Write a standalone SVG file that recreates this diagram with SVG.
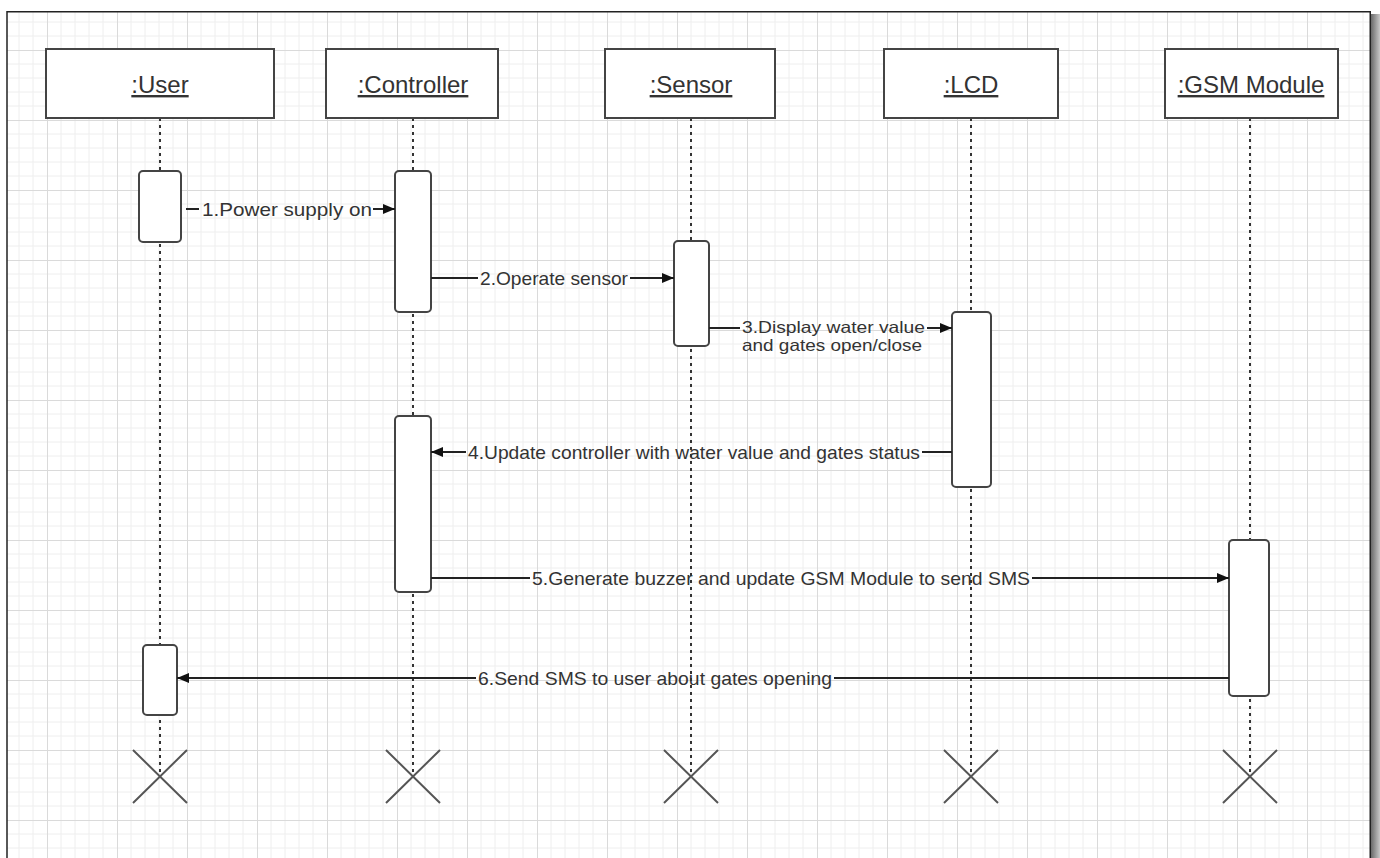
<svg xmlns="http://www.w3.org/2000/svg" width="1380" height="858" viewBox="0 0 1380 858">
  <defs>
    <pattern id="grid" x="47" y="50" width="70" height="70" patternUnits="userSpaceOnUse">
      <path d="M14,0V70M28,0V70M42,0V70M56,0V70M0,14H70M0,28H70M0,42H70M0,56H70" stroke="#eeeeee" stroke-width="1" fill="none"/>
      <path d="M0.5,0V70M0,0.5H70" stroke="#dadada" stroke-width="1" fill="none"/>
    </pattern>
    <linearGradient id="edgeShade" x1="0" y1="0" x2="1" y2="0">
      <stop offset="0" stop-color="#6a6a6a"/>
      <stop offset="1" stop-color="#c8c8c8"/>
    </linearGradient>
    <marker id="arrow" viewBox="0 0 12 10" refX="12" refY="5" markerWidth="12" markerHeight="10" markerUnits="userSpaceOnUse" orient="auto">
      <path d="M0,0L12,5L0,10z" fill="#111"/>
    </marker>
    <style>
      .head { fill: #fff; stroke: #444; stroke-width: 2; }
      .head-text { font-family: "Liberation Sans", Arial, sans-serif; font-size: 24px; fill: #333; text-anchor: middle; text-decoration: underline; }
      .life { stroke: #333; stroke-width: 2; stroke-dasharray: 3 4; fill: none; }
      .act { fill: #fff; stroke: #444; stroke-width: 2; }
      .kill { stroke: #555; stroke-width: 2; fill: none; }
      .msg { stroke: #222; stroke-width: 2; fill: none; }
      .lbl { font-family: "Liberation Sans", Arial, sans-serif; font-size: 19px; fill: #333; }
      .lbl-sm { font-family: "Liberation Sans", Arial, sans-serif; font-size: 16.5px; fill: #333; }
    </style>
  </defs>

  <!-- page -->
  <rect x="0" y="0" width="1380" height="858" fill="#fff"/>
  <rect x="7" y="12" width="1363" height="846" fill="url(#grid)"/>
  <rect x="1371" y="14" width="9" height="844" fill="url(#edgeShade)"/>
  <path d="M7,858V11.75H1370.25V858" fill="none" stroke="#222" stroke-width="1.5"/>

  <!-- lifelines -->
  <g id="lifelines">
    <line class="life" x1="160" y1="118" x2="160" y2="776"/>
    <line class="life" x1="413" y1="118" x2="413" y2="776"/>
    <line class="life" x1="691" y1="118" x2="691" y2="776"/>
    <line class="life" x1="971" y1="118" x2="971" y2="776"/>
    <line class="life" x1="1250" y1="118" x2="1250" y2="776"/>
  </g>

  <g id="user">
    <rect class="head" x="46" y="49" width="228" height="69"/>
    <text class="head-text" x="160" y="93">:User</text>
    <rect class="act" x="139" y="171" width="42" height="71" rx="4"/>
    <rect class="act" x="143" y="645" width="34" height="70" rx="4"/>
    <path class="kill" d="M133,750L187,803M187,750L133,803"/>
  </g>

  <g id="controller">
    <rect class="head" x="326" y="49" width="172" height="69"/>
    <text class="head-text" x="413" y="93">:Controller</text>
    <rect class="act" x="395" y="171" width="36" height="141" rx="4"/>
    <rect class="act" x="395" y="416" width="36" height="176" rx="4"/>
    <path class="kill" d="M386,750L440,803M440,750L386,803"/>
  </g>

  <g id="sensor">
    <rect class="head" x="605" y="49" width="170" height="69"/>
    <text class="head-text" x="691" y="93">:Sensor</text>
    <rect class="act" x="674" y="241" width="35" height="105" rx="4"/>
    <path class="kill" d="M664,750L718,803M718,750L664,803"/>
  </g>

  <g id="lcd">
    <rect class="head" x="884" y="49" width="174" height="69"/>
    <text class="head-text" x="971" y="93">:LCD</text>
    <rect class="act" x="952" y="312" width="39" height="175" rx="4"/>
    <path class="kill" d="M944,750L998,803M998,750L944,803"/>
  </g>

  <g id="gsm">
    <rect class="head" x="1165" y="49" width="173" height="69"/>
    <text class="head-text" x="1251" y="93">:GSM Module</text>
    <rect class="act" x="1229" y="540" width="40" height="156" rx="4"/>
    <path class="kill" d="M1223,750L1277,803M1277,750L1223,803"/>
  </g>

  <!-- messages -->
  <g id="connectors">
    <path class="msg" d="M186,209H199"/>
    <path class="msg" d="M373,209H395" marker-end="url(#arrow)"/>
    <text class="lbl" x="202" y="216" textLength="170" lengthAdjust="spacingAndGlyphs">1.Power supply on</text>

    <path class="msg" d="M431,278H478"/>
    <path class="msg" d="M630,278H674" marker-end="url(#arrow)"/>
    <text class="lbl" x="480" y="285" textLength="148" lengthAdjust="spacingAndGlyphs">2.Operate sensor</text>

    <path class="msg" d="M709,328H740"/>
    <path class="msg" d="M927,328H952" marker-end="url(#arrow)"/>
    <text class="lbl-sm" x="742" y="333" textLength="183" lengthAdjust="spacingAndGlyphs">3.Display water value</text>
    <text class="lbl-sm" x="742" y="351" textLength="180" lengthAdjust="spacingAndGlyphs">and gates open/close</text>

    <path class="msg" d="M952,452H922"/>
    <path class="msg" d="M466,452H431" marker-end="url(#arrow)"/>
    <text class="lbl" x="468" y="459" textLength="452" lengthAdjust="spacingAndGlyphs">4.Update controller with water value and gates status</text>

    <path class="msg" d="M431,578H530"/>
    <path class="msg" d="M1032,578H1229" marker-end="url(#arrow)"/>
    <text class="lbl" x="532" y="585" textLength="498" lengthAdjust="spacingAndGlyphs">5.Generate buzzer and update GSM Module to send SMS</text>

    <path class="msg" d="M1229,678H834"/>
    <path class="msg" d="M476,678H177" marker-end="url(#arrow)"/>
    <text class="lbl" x="478" y="685" textLength="354" lengthAdjust="spacingAndGlyphs">6.Send SMS to user about gates opening</text>
  </g>
</svg>
